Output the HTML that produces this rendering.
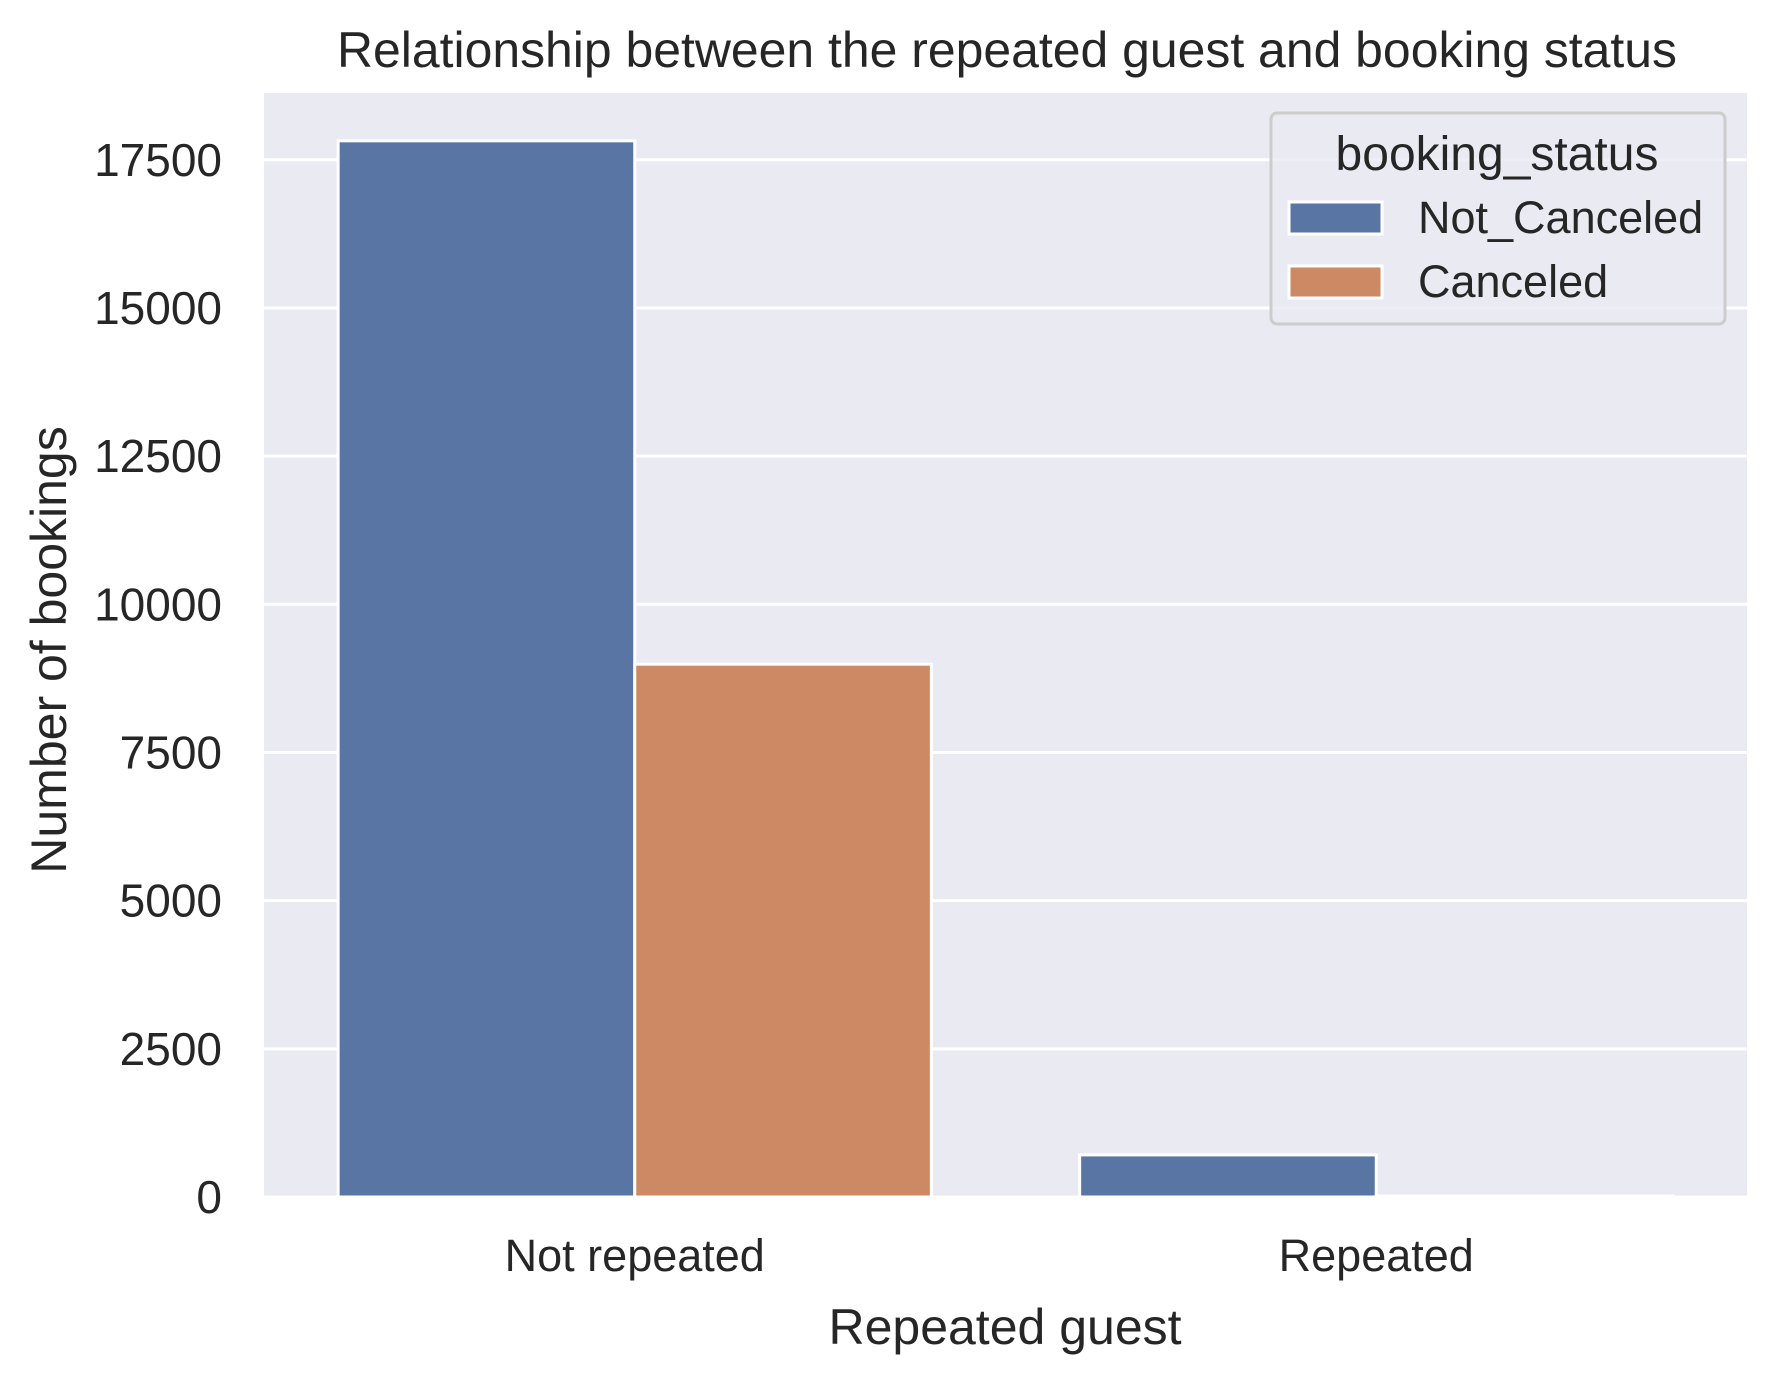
<!DOCTYPE html>
<html><head><meta charset="utf-8"><style>
html,body{margin:0;padding:0;background:#fff;}
svg{display:block;font-family:"Liberation Sans",Arial,sans-serif;}
</style></head><body>
<svg id="chart" width="1778" height="1373" viewBox="0 0 1778 1373" xmlns="http://www.w3.org/2000/svg">
<rect x="264" y="93" width="1483" height="1104" fill="#eaeaf2"/>
<g id="grid"></g>
<g id="bars"></g>
<g id="yticks" font-size="46" fill="#262626" text-anchor="end"></g>
<g id="xticks" font-size="45" fill="#262626" text-anchor="middle"></g>
<text x="337" y="67" font-size="50" fill="#262626" textLength="1340" lengthAdjust="spacingAndGlyphs">Relationship between the repeated guest and booking status</text>
<text x="1005" y="1344" font-size="50" fill="#262626" text-anchor="middle">Repeated guest</text>
<text transform="translate(66,650) rotate(-90)" font-size="50" fill="#262626" text-anchor="middle">Number of bookings</text>
<g>
<rect x="1271" y="113" width="454" height="211" rx="6" fill="#eaeaf2" fill-opacity="0.8" stroke="#cccccc" stroke-width="3"/>
<text x="1497" y="170" font-size="48" fill="#262626" text-anchor="middle">booking_status</text>
<rect x="1289" y="202" width="93" height="32" fill="#5975a4" stroke="#fff" stroke-width="3"/>
<text x="1418" y="233" font-size="45" fill="#262626">Not_Canceled</text>
<rect x="1289" y="266" width="93" height="32" fill="#cc8963" stroke="#fff" stroke-width="3"/>
<text x="1418" y="297" font-size="45" fill="#262626">Canceled</text>
</g>
</svg>
<script>
const categories = ["Not repeated", "Repeated"];
const notCanceled = [17820, 710];
const canceled = [8990, 16];
const yTicks = [0, 2500, 5000, 7500, 10000, 12500, 15000, 17500];
const seriesNames = ["Not_Canceled", "Canceled"];

const NS = "http://www.w3.org/2000/svg";
const L = 264, R = 1747, T = 93, B = 1197, YMAX = 18627;
function y(v){ return B - v / YMAX * (B - T); }
const band = (R - L) / categories.length;
function xc(i){ return L + band * (i + 0.5); }
const bw = band * 0.8 / 2;

const grid = document.getElementById('grid');
const yt = document.getElementById('yticks');
yTicks.forEach(v => {
  const ln = document.createElementNS(NS, 'line');
  
  
  ln.setAttribute('x1', L); ln.setAttribute('x2', R);
  ln.setAttribute('y1', y(v)); ln.setAttribute('y2', y(v));
  ln.setAttribute('stroke', '#fff'); ln.setAttribute('stroke-width', '3');
  grid.appendChild(ln);
  const t = document.createElementNS(NS, 'text');
  
  
  t.setAttribute('x', 222); t.setAttribute('y', y(v) + 16);
  t.textContent = v;
  yt.appendChild(t);
});

const bars = document.getElementById('bars');
const series = [notCanceled, canceled];
const colors = ["#5975a4", "#cc8963"];
series.forEach((vals, s) => {
  vals.forEach((v, i) => {
    const r = document.createElementNS(NS, 'rect');
    
    
    const x0 = xc(i) - bw + s * bw;
    r.setAttribute('x', x0); r.setAttribute('width', bw);
    r.setAttribute('y', y(v)); r.setAttribute('height', B - y(v));
    r.setAttribute('fill', colors[s]);
    r.setAttribute('stroke', '#fff'); r.setAttribute('stroke-width', '3');
    bars.appendChild(r);
  });
});

const xt = document.getElementById('xticks');
categories.forEach((c, i) => {
  const t = document.createElementNS(NS, 'text');
  
  
  t.setAttribute('x', xc(i)); t.setAttribute('y', 1271);
  t.textContent = c;
  xt.appendChild(t);
});
</script>
</body></html>
